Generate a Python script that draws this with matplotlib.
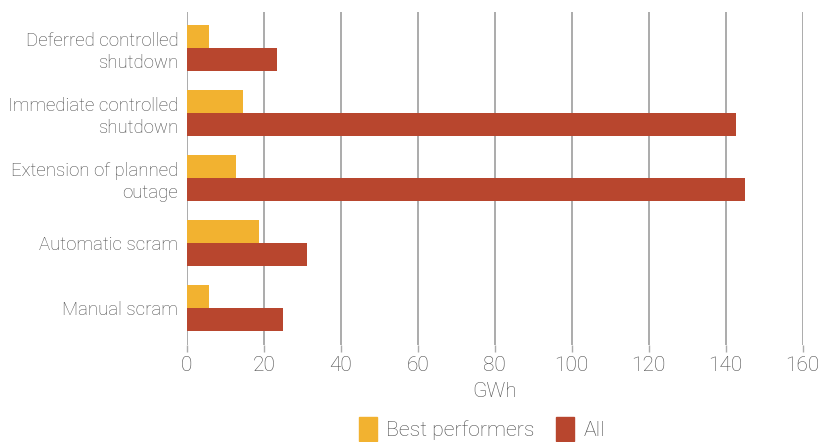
import matplotlib
matplotlib.use("Agg")
import matplotlib.pyplot as plt
import numpy as np
from matplotlib.patches import Patch

categories = [
    "Deferred controlled\nshutdown",
    "Immediate controlled\nshutdown",
    "Extension of planned\noutage",
    "Automatic scram",
    "Manual scram",
]
best_performers = [5.8, 14.6, 12.8, 18.8, 5.8]
all_units = [23.5, 142.7, 145.0, 31.3, 25.0]
x_ticks = [0, 20, 40, 60, 80, 100, 120, 140, 160]

plt.rcParams["font.family"] = ["Roboto", "DejaVu Sans"]
text_color = "#4a4a4a"
best_color = "#F2B230"
all_color = "#B8462E"
weight = "light"

fig = plt.figure(figsize=(8.2, 4.42), dpi=100)
ax = fig.add_axes([186.7 / 820, 1 - 345 / 442, (802.7 - 186.7) / 820, (345 - 12) / 442])

y = np.arange(len(categories))
h = 0.354
ax.barh(y - h / 2, best_performers, height=h, color=best_color, zorder=3, label="Best performers")
ax.barh(y + h / 2, all_units, height=h, color=all_color, zorder=3, label="All")

ax.set_xlim(0, 160)
ax.set_ylim(4.569, -0.554)
ax.set_xticks(x_ticks)
ax.set_xticklabels([str(t) for t in x_ticks])
ax.set_yticks(y)
ax.set_yticklabels(categories, linespacing=1.25)
ax.grid(axis="x", color="#ABABAB", linewidth=1.4, zorder=0)
for s in ax.spines.values():
    s.set_visible(False)
ax.tick_params(axis="x", length=5, color="#ABABAB", width=1.0, labelsize=15,
               labelcolor=text_color, pad=3)
ax.tick_params(axis="y", length=0, labelsize=13.4, labelcolor=text_color, pad=6)
for lbl in ax.get_xticklabels() + ax.get_yticklabels():
    lbl.set_fontweight(weight)

ax.set_xlabel("GWh", fontsize=15, color=text_color, fontweight=weight, labelpad=5)

handles = [Patch(color=best_color), Patch(color=all_color)]
leg = fig.legend(handles, ["Best performers", "All"], loc="center",
                 bbox_to_anchor=(482 / 820, 1 - 429 / 442), ncol=2, frameon=False,
                 handlelength=0.85, handleheight=1.4, handletextpad=0.45, columnspacing=1.0,
                 prop={"size": 15.3, "weight": weight})
for t in leg.get_texts():
    t.set_color(text_color)

fig.savefig("out.png", dpi=100)
